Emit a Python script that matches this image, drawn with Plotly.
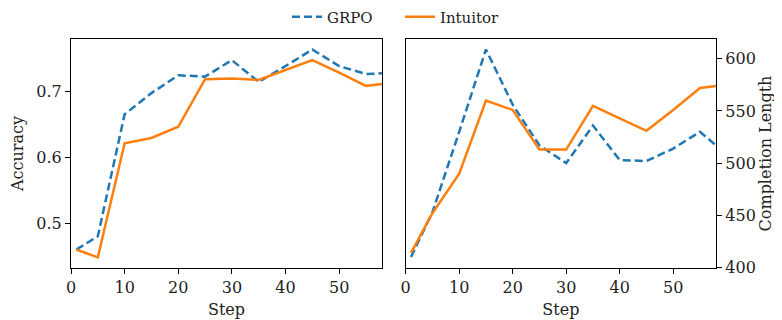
import plotly.graph_objects as go

steps = [1, 5, 10, 15, 20, 25, 30, 35, 40, 45, 50, 55, 58]
grpo_acc = [0.461, 0.481, 0.666, 0.698, 0.725, 0.723, 0.748, 0.715, 0.739, 0.764, 0.739, 0.727, 0.728]
intuitor_acc = [0.461, 0.449, 0.622, 0.630, 0.647, 0.719, 0.720, 0.718, 0.733, 0.748, 0.729, 0.709, 0.712]
grpo_len = [410, 453, 530, 609, 556, 517, 500, 536, 503, 502, 514, 530, 517]
intuitor_len = [414, 452, 490, 560, 551, 513, 513, 555, 543, 531, 551, 572, 574]

BLUE = "#1f77b4"
ORANGE = "#ff7f0e"
FONT = "DejaVu Serif"

fig = go.Figure()
fig.add_trace(go.Scatter(x=steps, y=grpo_acc, mode="lines", name="GRPO",
                         line=dict(color=BLUE, width=2.5, dash="8px,4px"),
                         xaxis="x", yaxis="y", legendrank=1))
fig.add_trace(go.Scatter(x=steps, y=intuitor_acc, mode="lines", name="Intuitor",
                         line=dict(color=ORANGE, width=2.5),
                         xaxis="x", yaxis="y", legendrank=2))
fig.add_trace(go.Scatter(x=steps, y=grpo_len, mode="lines", name="GRPO",
                         line=dict(color=BLUE, width=2.5, dash="8px,4px"),
                         xaxis="x2", yaxis="y2", showlegend=False))
fig.add_trace(go.Scatter(x=steps, y=intuitor_len, mode="lines", name="Intuitor",
                         line=dict(color=ORANGE, width=2.5),
                         xaxis="x2", yaxis="y2", showlegend=False))

axis_common = dict(showline=True, linecolor="black", linewidth=1.2, mirror=True,
                   ticks="outside", ticklen=5, tickwidth=1.2, tickcolor="black",
                   showgrid=False, zeroline=False, automargin=False,
                   tickfont=dict(family=FONT, size=16, color="#222"))

# page body adds an 8px offset; figure is sized to fill the remaining window
fig.update_layout(
    width=774, height=312,
    margin=dict(l=63, r=66, t=31, b=52, autoexpand=False),
    plot_bgcolor="white", paper_bgcolor="white",
    font=dict(family=FONT, size=16, color="#222"),
    showlegend=True,
    legend=dict(orientation="h", x=0.51, y=1.096, xanchor="center", yanchor="middle",
                font=dict(family=FONT, size=15), bgcolor="rgba(0,0,0,0)",
                itemwidth=30, tracegroupgap=0, entrywidth=68, entrywidthmode="pixels"),
    xaxis=dict(domain=[0, 0.4822], range=[0, 58], tickvals=[0, 10, 20, 30, 40, 50],
               title=dict(text="Step", standoff=7, font=dict(family=FONT, size=16)), anchor="y",
               **axis_common),
    yaxis=dict(domain=[0, 1], range=[0.433, 0.780], tickvals=[0.5, 0.6, 0.7],
               ticktext=["0.5", "0.6", "0.7"],
               title=dict(text="Accuracy", standoff=10, font=dict(family=FONT, size=16)), anchor="x",
               **axis_common),
    xaxis2=dict(domain=[0.5189, 1], range=[0, 58], tickvals=[0, 10, 20, 30, 40, 50],
                title=dict(text="Step", standoff=7, font=dict(family=FONT, size=16)), anchor="y2",
                **axis_common),
    yaxis2=dict(domain=[0, 1], range=[399.5, 619], tickvals=[400, 450, 500, 550, 600],
                side="right",
                title=dict(text="Completion Length", standoff=4, font=dict(family=FONT, size=16)),
                anchor="x2", **axis_common),
)

fig.write_html("out.html")
